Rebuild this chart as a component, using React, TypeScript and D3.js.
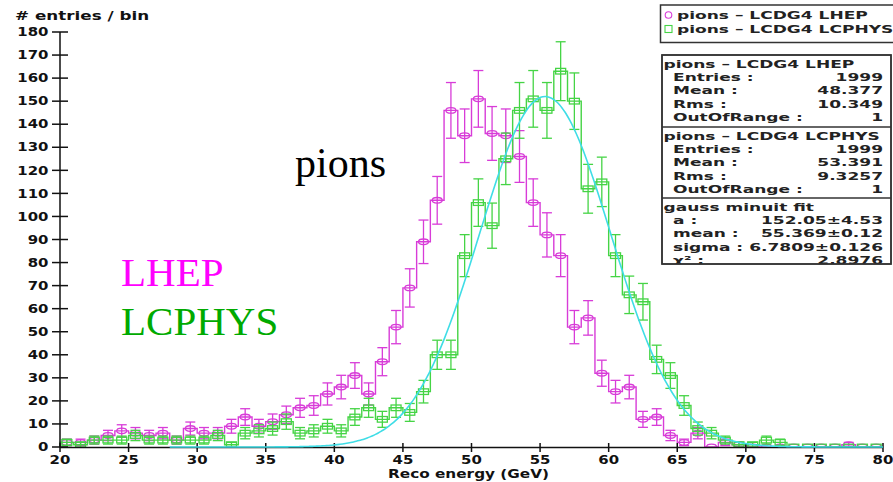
import React from 'react';
import * as d3 from 'd3';

// ---------- data ----------
const binStarts = [20,21,22,23,24,25,26,27,28,29,30,31,32,33,34,35,36,37,38,39,40,41,42,43,44,45,46,47,48,49,50,51,52,53,54,55,56,57,58,59,60,61,62,63,64,65,66,67,68,69,70,71,72,73,74,75,76,77,78,79];
const binWidth = 1;
const lhepCounts = [2,2,3,5,7,6,5,6,3,8,6,6,9,13,9,11,14,17,18,23,26,31,23,37,52,69,89,107,146,135,151,136,135,126,106,92,83,52,56,32,24,26,12,13,5,2,6,0,2,1,0,0,0,0,0,0,0,1,0,0];
const lcphysCounts = [2,1,3,3,3,5,3,3,3,3,3,5,1,6,7,8,11,6,7,9,7,13,17,12,17,15,24,40,40,83,106,96,125,146,151,146,163,150,112,115,83,66,63,38,31,18,8,6,3,1,1,3,2,0,0,0,0,0,0,0];
const xTicks = [20,25,30,35,40,45,50,55,60,65,70,75,80];
const yTicks = [0,10,20,30,40,50,60,70,80,90,100,110,120,130,140,150,160,170,180];
// fit parameters (as shown in the stats box); curve drawn as a*exp(-((x-mean)/sigma)^2)
const fitA = 152.05;
const fitMean = 55.369;
const fitSigma = 6.7809;
const fitRange = [28, 80];

const legendLabels = ['pions \u2013 LCDG4 LHEP', 'pions \u2013 LCDG4 LCPHYS'];
const statsTitles = ['pions \u2013 LCDG4 LHEP', 'pions \u2013 LCDG4 LCPHYS', 'gauss minuit fit'];
const statsLabels = [
  ['Entries :', 'Mean :', 'Rms :', 'OutOfRange :'],
  ['Entries :', 'Mean :', 'Rms :', 'OutOfRange :'],
  ['a :', 'mean :', 'sigma :', '\u03c7\u00b2 :'],
];
const statsValues = [
  ['1999', '48.377', '10.349', '1'],
  ['1999', '53.391', '9.3257', '1'],
  ['152.05\u00b14.53', '55.369\u00b10.12', '6.7809\u00b10.126', '2.8976'],
];

// ---------- style ----------
const W = 893, H = 482;
const MAG = '#d83cd8';
const GRN = '#45d445';
const CYAN = '#3fdde6';
const AXIS_FONT = 'DejaVu Sans, Verdana, sans-serif';

function SText({ x, y, sx = 1.3, size = 11.5, anchor = 'start', fill = '#111', children }: any) {
  return (
    <text
      transform={`translate(${x},${y}) scale(${sx},1)`}
      textAnchor={anchor}
      fontFamily={AXIS_FONT}
      fontWeight="bold"
      fontSize={size}
      fill={fill}
    >
      {children}
    </text>
  );
}

export default function App() {
  const x = d3.scaleLinear().domain([20, 80]).range([60, 883]);
  const y = d3.scaleLinear().domain([0, 180]).range([447, 32]);

  const histPath = (counts: number[]) => {
    const p = d3.path();
    p.moveTo(x(binStarts[0]), y(0));
    counts.forEach((v, i) => {
      p.lineTo(x(binStarts[i]), y(v));
      p.lineTo(x(binStarts[i] + binWidth), y(v));
    });
    p.lineTo(x(binStarts[binStarts.length - 1] + binWidth), y(0));
    return p.toString();
  };

  const errMarks = (counts: number[], color: string, kind: 'circle' | 'square') =>
    counts.map((v, i) => {
      const cx = x(binStarts[i] + binWidth / 2);
      const cy = y(v);
      const e = Math.sqrt(v);
      const yt = y(v + e), yb = y(v - e);
      const cap = 5;
      return (
        <g key={i} stroke={color} strokeWidth={1.3} fill="none">
          {v > 0 && (
            <>
              <line x1={cx} x2={cx} y1={yt} y2={yb} />
              <line x1={cx - cap} x2={cx + cap} y1={yt} y2={yt} />
              <line x1={cx - cap} x2={cx + cap} y1={yb} y2={yb} />
            </>
          )}
          {kind === 'circle' ? (
            <ellipse cx={cx} cy={cy} rx={5} ry={2.8} />
          ) : (
            <rect x={cx - 5} y={cy - 2.8} width={10} height={5.6} />
          )}
        </g>
      );
    });

  const fitPts = d3.range(fitRange[0], fitRange[1] + 0.001, 0.2).map((e) => [
    e,
    fitA * Math.exp(-(((e - fitMean) / fitSigma) ** 2)),
  ]);
  const fitLine = d3
    .line<number[]>()
    .x((d) => x(d[0]))
    .y((d) => y(d[1]))
    .curve(d3.curveBasis)(fitPts) as string;

  // stats box layout
  const sbX = 662, sbY = 55, sbR = 891, sbB = 264;
  const sectionTops = [55, 127, 198];
  const rowStep = 13.4;
  const BOX_SIZE = 11, BOX_SX = 1.55;

  return (
    <svg
      width={W}
      height={H}
      viewBox={`0 0 ${W} ${H}`}
      style={{ position: 'absolute', left: 0, top: 0, background: '#fff', display: 'block' }}
    >
      <defs>
        <clipPath id="plotClip">
          <rect x={55} y={0} width={840} height={447} />
        </clipPath>
        <clipPath id="statsClip">
          <rect x={sbX} y={sbY} width={sbR - sbX} height={sbB - sbY} />
        </clipPath>
      </defs>
      <rect x={0} y={0} width={W} height={H} fill="#fff" />

      {/* y title */}
      <SText x={15} y={20} size={12} sx={1.4}>
        # entries / bin
      </SText>

      {/* big annotations */}
      <text x={295} y={177} fontFamily="Liberation Serif, Times New Roman, serif" fontSize={42} fill="#000">
        pions
      </text>
      <text x={121} y={285.5} fontFamily="Liberation Serif, Times New Roman, serif" fontSize={41} fill="#ff00ff">
        LHEP
      </text>
      <text x={121} y={335} fontFamily="Liberation Serif, Times New Roman, serif" fontSize={41} fill="#00aa00">
        LCPHYS
      </text>

      {/* histograms */}
      <g clipPath="url(#plotClip)">
        <path d={histPath(lhepCounts)} fill="none" stroke={MAG} strokeWidth={1.4} />
        {errMarks(lhepCounts, MAG, 'circle')}
        <path d={histPath(lcphysCounts)} fill="none" stroke={GRN} strokeWidth={1.4} />
        {errMarks(lcphysCounts, GRN, 'square')}
      </g>

      {/* axes */}
      <g stroke="#111" strokeWidth={1.5}>
        <line x1={x(20)} x2={x(80)} y1={y(0) + 0.5} y2={y(0) + 0.5} />
        <line x1={x(20)} x2={x(20)} y1={y(180)} y2={y(0) + 0.5} />
        {xTicks.map((t) => (
          <line key={'xt' + t} x1={x(t)} x2={x(t)} y1={y(0) - 4} y2={y(0) + 5} />
        ))}
        {yTicks.map((t) => (
          <line key={'yt' + t} x1={x(20) - 8} x2={x(20) + 8} y1={y(t)} y2={y(t)} />
        ))}
      </g>
      {xTicks.map((t) => (
        <SText key={'xl' + t} x={x(t)} y={463.5} anchor="middle">
          {t}
        </SText>
      ))}
      {yTicks.map((t) => (
        <SText key={'yl' + t} x={48.5} y={y(t) + 4.2} anchor="end">
          {t}
        </SText>
      ))}
      <SText x={388} y={478} size={11.5} sx={1.33}>
        Reco energy (GeV)
      </SText>

      {/* fit curve */}
      <path d={fitLine} fill="none" stroke={CYAN} strokeWidth={1.6} />

      {/* legend */}
      <rect x={660.5} y={5} width={240} height={37.5} fill="#fff" stroke="#333" strokeWidth={1.5} />
      <circle cx={668.5} cy={15} r={3.3} fill="none" stroke={MAG} strokeWidth={1.1} />
      <rect x={665} y={25.5} width={7} height={7} fill="none" stroke={GRN} strokeWidth={1.1} />
      {legendLabels.map((l, i) => (
        <SText key={'lg' + i} x={677} y={19 + i * 14.3} size={BOX_SIZE} sx={BOX_SX} fill="#222">
          {l}
        </SText>
      ))}

      {/* stats box */}
      <rect x={sbX} y={sbY} width={sbR - sbX} height={sbB - sbY} fill="#fff" stroke="#333" strokeWidth={1.5} />
      <g clipPath="url(#statsClip)">
        {statsTitles.map((title, s) => {
          const top = sectionTops[s];
          return (
            <g key={'sec' + s}>
              {s > 0 && <line x1={sbX} x2={sbR} y1={top} y2={top} stroke="#333" strokeWidth={1.5} />}
              <SText x={663.5} y={top + 12.5} size={BOX_SIZE} sx={BOX_SX} fill="#222">
                {title}
              </SText>
              {statsLabels[s].map((lab, r) => (
                <g key={'r' + r}>
                  <SText x={673} y={top + 12.5 + (r + 1) * rowStep} size={BOX_SIZE} sx={BOX_SX} fill="#222">
                    {lab}
                  </SText>
                  <SText x={883} y={top + 12.5 + (r + 1) * rowStep} size={BOX_SIZE} sx={BOX_SX} anchor="end" fill="#222">
                    {statsValues[s][r]}
                  </SText>
                </g>
              ))}
            </g>
          );
        })}
      </g>
      <rect x={sbX} y={sbY} width={sbR - sbX} height={sbB - sbY} fill="none" stroke="#333" strokeWidth={1.5} />
    </svg>
  );
}
